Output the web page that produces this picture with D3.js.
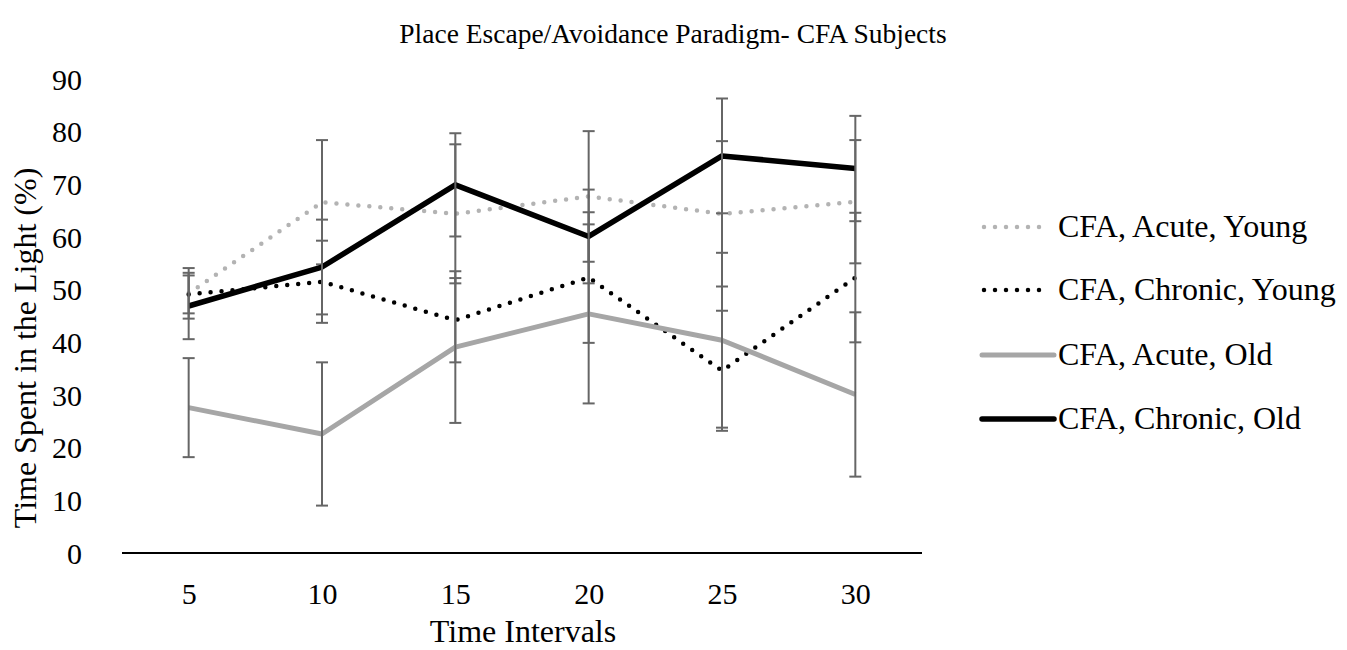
<!DOCTYPE html>
<html>
<head>
<meta charset="utf-8">
<script src="https://cdn.jsdelivr.net/npm/d3@7"></script>
<style>
  body { margin: 0; background: #fff; }
  text { font-family: "Liberation Serif", "Times New Roman", serif; fill: #000; }
</style>
</head>
<body>
<svg id="svg" width="1347" height="650"></svg>
<script>
// chart values
var intervals = ["5", "10", "15", "20", "25", "30"];
var yTicks = [0, 10, 20, 30, 40, 50, 60, 70, 80, 90];

var seriesNames = ["CFA, Acute, Young", "CFA, Chronic, Young", "CFA, Acute, Old", "CFA, Chronic, Old"];

var acuteYoung = [49.3, 66.6, 64.4, 67.7, 64.4, 66.7];
var acuteYoungErr = [4.8, 11.8, 13.2, 12.4, 13.8, 11.7];

var chronicYoung = [49.1, 51.5, 44.2, 52.3, 34.6, 52.3];
var chronicYoungErr = [3.6, 7.8, 8.0, 12.4, 11.4, 12.3];

var acuteOld = [27.6, 22.6, 39.1, 45.4, 40.4, 30.1];
var acuteOldErr = [9.4, 13.6, 14.4, 17.0, 16.6, 15.6];

var chronicOld = [46.9, 54.3, 69.9, 60.1, 75.4, 73.0];
var chronicOldErr = [6.3, 9.0, 9.8, 8.9, 10.9, 10.0];

// line looks per series
var styles = [
  {color: "#b3b3b3", width: 4.5, dash: "0,11"},
  {color: "#000000", width: 4.5, dash: "0,11"},
  {color: "#a6a6a6", width: 5, dash: null},
  {color: "#000000", width: 5.5, dash: null}
];

var series = [
  {name: seriesNames[0], values: acuteYoung, err: acuteYoungErr},
  {name: seriesNames[1], values: chronicYoung, err: chronicYoungErr},
  {name: seriesNames[2], values: acuteOld, err: acuteOldErr},
  {name: seriesNames[3], values: chronicOld, err: chronicOldErr}
];

var svg = d3.select("#svg");

var x = d3.scalePoint()
    .domain(intervals)
    .range([122, 922])
    .padding(0.5);

var y = d3.scaleLinear()
    .domain([0, 90])
    .range([553, 79]);

// title
svg.append("text")
    .attr("x", 673)
    .attr("y", 43)
    .attr("text-anchor", "middle")
    .style("font-size", "27.5px")
    .text("Place Escape/Avoidance Paradigm- CFA Subjects");

// y axis labels only, no line
var yAxis = svg.append("g")
    .attr("transform", "translate(82,0)")
    .call(d3.axisLeft(y).tickValues(yTicks).tickSize(0).tickPadding(0));
yAxis.select(".domain").remove();
yAxis.selectAll("text")
    .style("font-size", "30px")
    .style("font-family", "Liberation Serif, serif")
    .attr("dy", "0.34em");

// x axis
var xAxis = svg.append("g")
    .attr("transform", "translate(0,553)")
    .call(d3.axisBottom(x).tickSize(0).tickPadding(0));
xAxis.select(".domain")
    .attr("d", "M122,0H922")
    .attr("stroke", "#000")
    .attr("stroke-width", 2);
xAxis.selectAll("text")
    .style("font-size", "30px")
    .style("font-family", "Liberation Serif, serif")
    .attr("dy", "0")
    .attr("y", 51);

// axis titles
svg.append("text")
    .attr("transform", "translate(36,348) rotate(-90)")
    .attr("text-anchor", "middle")
    .style("font-size", "32px")
    .text("Time Spent in the Light (%)");

svg.append("text")
    .attr("x", 523)
    .attr("y", 642)
    .attr("text-anchor", "middle")
    .style("font-size", "32px")
    .text("Time Intervals");

var line = d3.line()
    .x(function(d, i) { return x(intervals[i]); })
    .y(function(d) { return y(d); });

// each series: its line, then its error bars
series.forEach(function(s, k) {
  var st = styles[k];
  var g = svg.append("g").attr("class", "series");

  g.append("path")
      .attr("d", line(s.values))
      .attr("fill", "none")
      .attr("stroke", st.color)
      .attr("stroke-width", st.width)
      .attr("stroke-linecap", st.dash ? "round" : "butt")
      .attr("stroke-linejoin", "round")
      .attr("stroke-dasharray", st.dash);

  var bars = g.selectAll(".err")
      .data(s.values.map(function(v, i) { return {x: intervals[i], v: v, e: s.err[i]}; }))
      .enter().append("g")
        .attr("class", "err")
        .attr("stroke", "#666666")
        .attr("stroke-width", 2);

  bars.append("line")
      .attr("x1", function(d) { return x(d.x); })
      .attr("x2", function(d) { return x(d.x); })
      .attr("y1", function(d) { return y(d.v + d.e); })
      .attr("y2", function(d) { return y(d.v - d.e); });

  [1, -1].forEach(function(sign) {
    bars.append("line")
        .attr("x1", function(d) { return x(d.x) - 6; })
        .attr("x2", function(d) { return x(d.x) + 6; })
        .attr("y1", function(d) { return y(d.v + sign * d.e); })
        .attr("y2", function(d) { return y(d.v + sign * d.e); });
  });
});

// legend
var legendY = [227, 290, 355, 419];
var legend = svg.selectAll(".legend")
    .data(series)
    .enter().append("g")
      .attr("class", "legend")
      .attr("transform", function(d, i) { return "translate(0," + legendY[i] + ")"; });

legend.append("line")
    .attr("x1", function(d, i) { return styles[i].dash ? 984 : 982; })
    .attr("x2", function(d, i) { return styles[i].dash ? 1050 : 1054; })
    .attr("y1", 0)
    .attr("y2", 0)
    .attr("stroke", function(d, i) { return styles[i].color; })
    .attr("stroke-width", function(d, i) { return styles[i].width; })
    .attr("stroke-linecap", "round")
    .attr("stroke-dasharray", function(d, i) { return styles[i].dash; });

legend.append("text")
    .attr("x", 1058)
    .attr("y", 10)
    .style("font-size", "32px")
    .text(function(d) { return d.name; });
</script>
</body>
</html>
